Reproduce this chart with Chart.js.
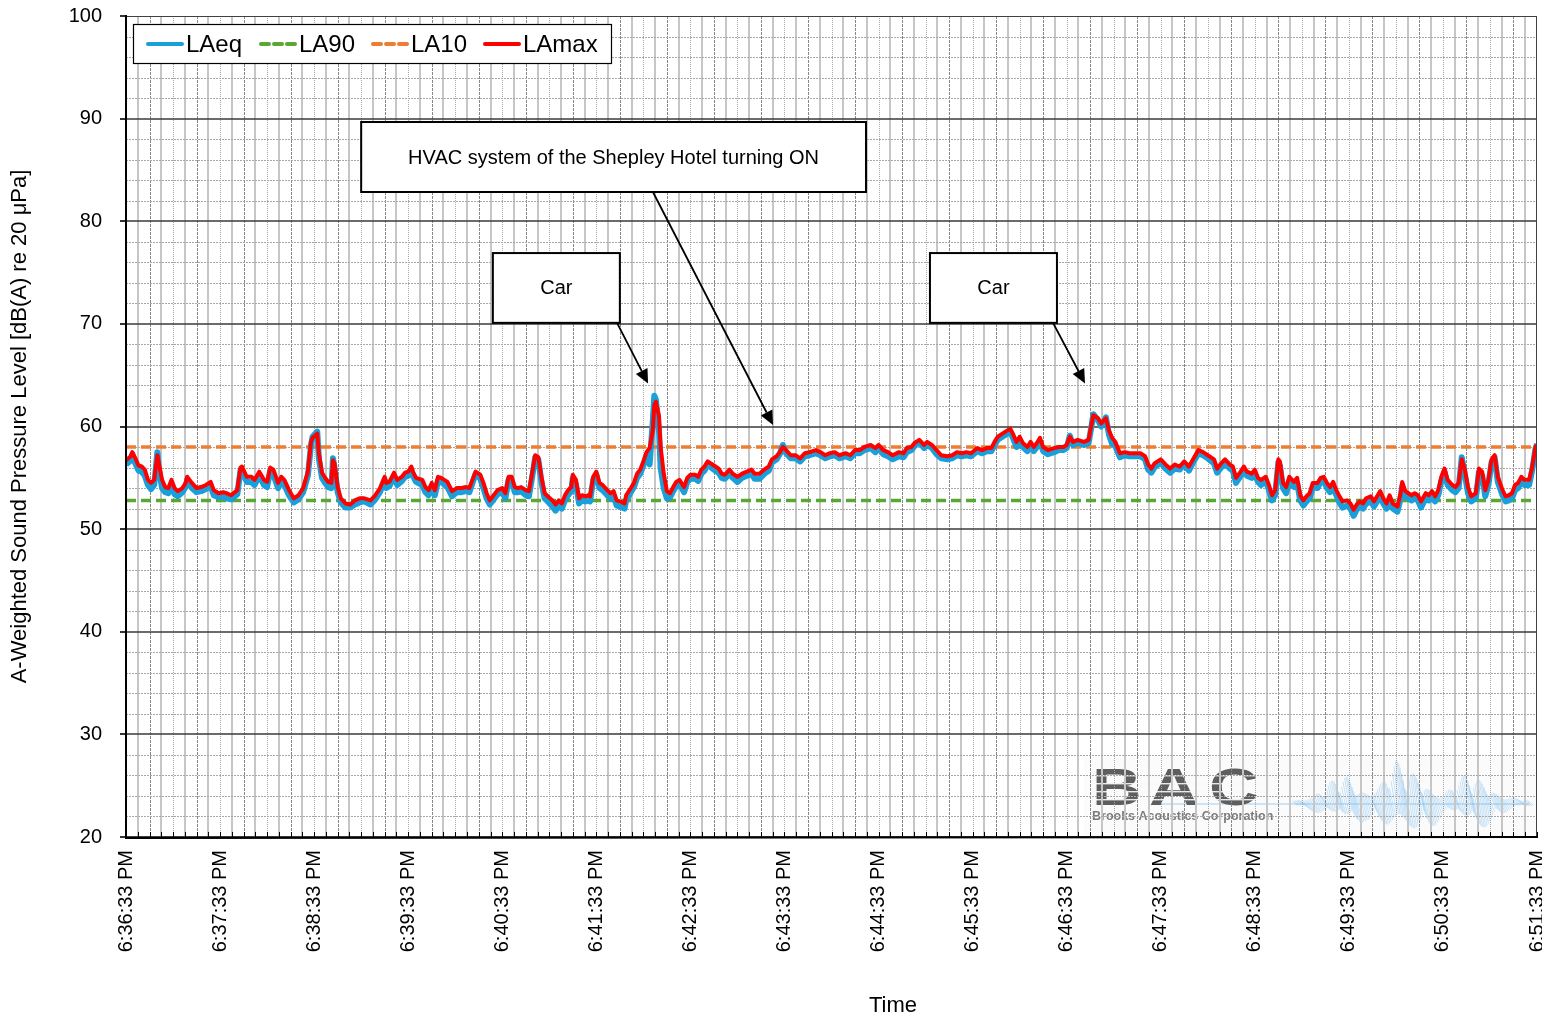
<!DOCTYPE html>
<html><head><meta charset="utf-8">
<script src="https://cdn.jsdelivr.net/npm/chart.js@4.4.1/dist/chart.umd.min.js"></script>
<style>html,body{margin:0;padding:0;background:#fff;overflow:hidden}#wrap{width:1542px;height:1020px}</style>
</head><body><div id="wrap"><canvas id="c" width="1542" height="1020"></canvas></div>
<script>
// ---------- DATA ----------
const startClockSeconds = 18*3600 + 36*60 + 33; // 6:36:33 PM
const durationSeconds = 900;
const majorTickSeconds = 60;
const minorGridSeconds = 7.5;
const yTicks = [20,30,40,50,60,70,80,90,100];
const seriesNames = ['LAeq','LA90','LA10','LAmax'];

// elapsed seconds from 6:36:33 PM
const times = [
0,3,4,6,8,10,12,14,16,18,
20,21,23,25,27,29,31,33,36,38,
39,42,45,48,51,54,56,59,62,64,
67,71,73,74,77,80,82,85,88,90,
92,94,97,99,101,104,107,110,113,116,
118,119,122,123,125,127,129,131,132,133,
135,137,140,143,146,149,152,156,159,162,
165,166,168,171,173,176,178,180,182,183,
185,189,191,193,195,197,199,201,205,208,
211,214,217,219,223,226,228,230,232,234,
237,240,242,244,246,248,250,252,255,257,
259,261,263,265,267,269,272,274,276,278,
280,282,284,285,287,289,291,293,295,296,
298,300,302,304,307,309,311,313,315,318,
319,322,324,326,328,330,332,334,336,337,
338,340,341,343,345,347,349,351,353,356,
358,360,363,365,367,369,371,374,376,378,
380,382,385,387,390,393,396,399,401,404,
408,410,412,415,417,419,421,424,427,430,
433,436,440,443,446,449,452,455,459,462,
465,468,471,475,478,480,483,486,489,493,
496,498,501,503,506,509,511,514,517,520,
524,527,530,533,536,539,543,546,549,552,
554,556,559,562,564,566,568,570,572,575,
577,579,581,583,585,588,592,595,598,600,
602,604,607,611,614,616,617,620,622,625,
627,629,631,634,637,640,644,647,650,652,
654,656,660,663,666,669,672,675,678,681,
684,687,690,694,696,698,701,704,706,708,
711,713,715,718,720,722,724,727,729,731,
733,735,736,738,740,742,745,747,749,751,
753,755,757,760,762,764,766,768,770,772,
774,776,779,781,783,785,787,789,791,794,
796,798,800,802,804,806,808,811,813,814,
816,818,820,822,824,826,829,831,833,835,
837,839,841,843,846,848,850,852,854,856,
858,861,863,865,867,869,871,873,875,878,
880,882,884,886,888,890,892,895,897,899,
900];

const lamax = [
56.7,57.1,57.5,56.9,56.2,56.1,55.8,54.8,54.5,54.8,
57.2,56.4,54.8,54.1,54.0,54.8,54.0,53.7,54.0,54.5,
55.1,54.5,54.0,54.1,54.3,54.6,53.8,53.5,53.6,53.5,
53.3,53.8,56.0,56.1,55.1,55.1,54.8,55.6,54.8,54.6,
56.0,55.8,54.5,55.1,54.8,53.8,53.0,53.3,54.0,55.6,
58.5,58.9,59.3,57.4,55.5,55.0,54.6,54.5,56.7,56.4,
54.1,53.0,52.5,52.4,52.8,53.0,53.0,52.8,53.3,54.0,
55.1,54.5,54.6,55.5,54.8,55.1,55.5,55.6,56.1,55.6,
55.0,54.8,54.1,53.8,54.5,53.8,55.1,55.0,54.6,53.7,
54.0,54.0,54.1,54.0,55.6,55.3,54.5,53.5,52.8,53.2,
53.8,54.0,53.5,55.1,55.1,54.1,54.0,54.1,53.8,53.7,
55.4,57.2,57.0,55.1,53.5,53.2,52.8,52.4,52.8,52.5,
53.3,53.8,54.1,55.3,54.8,53.0,53.3,53.2,53.3,53.2,
55.1,55.6,54.5,54.3,53.8,53.5,53.7,52.8,52.7,52.5,
53.3,54.0,54.5,55.4,55.8,56.6,57.5,57.9,59.6,62.1,
62.4,61.0,58.0,55.4,53.7,53.5,54.1,54.6,54.8,54.1,
55.0,55.3,55.3,55.1,55.8,56.1,56.6,56.3,56.1,55.9,
55.4,55.3,55.8,55.4,55.1,55.4,55.6,55.8,55.4,55.4,
55.9,56.1,56.8,57.1,57.5,58.0,57.7,57.2,57.2,56.9,
57.4,57.5,57.7,57.5,57.2,57.4,57.5,57.2,57.4,57.2,
57.7,57.7,58.0,58.2,57.9,58.2,57.7,57.5,57.2,57.5,
57.4,57.9,58.0,58.4,58.7,58.2,58.5,58.2,57.7,57.2,
57.1,57.2,57.5,57.4,57.5,57.4,57.9,57.7,57.9,57.9,
58.5,59.0,59.3,59.6,59.8,59.2,58.5,59.0,58.4,58.0,
58.5,58.0,58.4,58.9,58.0,57.7,57.9,58.0,58.0,58.2,
59.0,58.5,58.7,58.5,58.7,60.3,61.1,60.8,60.3,60.8,
59.6,58.9,58.5,57.4,57.5,57.4,57.4,57.4,57.1,56.3,
55.9,56.4,56.8,56.3,55.9,56.3,56.1,56.6,56.1,56.9,
57.7,57.5,57.2,56.8,55.9,56.3,56.8,56.3,56.1,55.0,
55.6,56.1,55.6,55.4,55.8,55.0,54.8,55.1,54.3,53.3,
53.8,56.8,56.6,54.5,54.1,55.1,54.6,55.0,53.3,52.8,
53.2,53.5,54.5,54.5,55.0,55.1,54.5,54.1,54.6,53.8,
53.2,52.7,52.8,52.5,51.9,52.4,52.7,52.5,53.0,53.2,
52.7,53.2,53.7,53.0,52.5,53.3,52.5,52.2,53.5,54.6,
53.7,53.5,53.3,53.5,53.3,52.7,53.5,53.3,53.7,53.2,
53.8,55.1,55.9,54.8,54.3,54.1,54.5,56.8,55.8,54.1,
53.2,53.5,55.9,55.6,53.8,54.8,56.8,57.2,55.1,53.8,
53.2,53.3,53.5,54.3,54.5,55.1,54.8,54.8,56.1,58.0,
58.2];

const laeq = [
56.3,56.7,57.3,56.4,55.7,55.6,55.2,54.3,53.9,54.3,
57.5,55.8,54.0,53.6,53.5,54.4,53.4,53.2,53.6,54.1,
54.8,54.0,53.6,53.7,53.9,54.2,53.3,53.1,53.2,53.0,
52.9,53.4,55.7,55.7,54.6,54.6,54.3,55.2,54.3,54.1,
55.7,55.3,54.0,54.6,54.3,53.3,52.6,52.9,53.6,55.2,
58.2,59.0,59.5,56.9,55.0,54.5,54.1,54.0,56.9,56.0,
53.6,52.6,52.1,52.1,52.4,52.6,52.7,52.4,52.9,53.6,
54.8,54.0,54.2,55.1,54.3,54.7,55.1,55.2,55.8,55.2,
54.6,54.3,53.6,53.3,54.0,53.3,54.7,54.6,54.1,53.2,
53.6,53.6,53.7,53.6,55.4,54.9,54.0,53.0,52.4,52.8,
53.4,53.6,53.0,54.8,54.7,53.6,53.6,53.7,53.3,53.2,
55.0,57.0,56.8,54.6,53.0,52.7,52.2,51.8,52.3,52.0,
52.8,53.3,53.7,55.0,54.3,52.5,52.8,52.7,52.8,52.7,
54.8,55.3,54.0,53.8,53.3,53.0,53.2,52.3,52.2,52.0,
52.8,53.6,54.1,55.0,55.4,56.2,57.1,56.3,60.5,63.0,
62.6,59.5,56.0,54.0,53.0,53.1,53.7,54.2,54.4,53.6,
54.6,54.9,54.9,54.7,55.4,55.7,56.3,55.9,55.7,55.5,
55.0,54.9,55.4,55.0,54.6,55.0,55.2,55.4,54.9,54.9,
55.5,55.7,56.5,56.8,57.3,58.2,57.4,56.9,56.9,56.6,
57.1,57.2,57.4,57.2,56.9,57.1,57.2,56.9,57.1,56.9,
57.4,57.4,57.7,57.9,57.5,57.9,57.3,57.1,56.8,57.1,
57.0,57.5,57.7,58.1,58.5,57.9,58.2,57.9,57.3,56.9,
56.8,56.9,57.2,57.1,57.2,57.1,57.6,57.4,57.6,57.6,
58.2,58.7,59.0,59.3,59.5,58.8,58.0,58.6,58.0,57.6,
58.2,57.6,58.0,58.5,57.6,57.3,57.5,57.7,57.7,57.9,
59.1,58.2,58.4,58.2,58.4,60.2,61.2,60.6,60.0,60.9,
59.2,58.3,58.1,57.0,57.2,57.1,57.1,57.1,56.8,55.8,
55.5,56.0,56.5,55.9,55.5,55.9,55.8,56.3,55.7,56.6,
57.4,57.2,56.9,56.4,55.5,55.9,56.4,55.9,55.7,54.5,
55.2,55.7,55.2,55.0,55.4,54.6,54.3,54.7,53.8,52.8,
53.3,56.5,56.2,54.0,53.5,54.6,54.1,54.5,52.8,52.3,
52.7,53.0,54.1,54.0,54.6,54.7,54.0,53.6,54.1,53.3,
52.6,52.1,52.3,52.0,51.3,51.9,52.2,52.0,52.5,52.7,
52.2,52.7,53.2,52.5,52.0,52.8,52.0,51.7,53.0,54.2,
53.2,53.0,52.8,53.0,52.8,52.1,53.0,52.8,53.2,52.7,
53.3,54.7,55.6,54.3,53.8,53.6,54.0,57.0,55.3,53.5,
52.7,53.0,55.6,55.2,53.2,54.3,56.5,57.0,54.6,53.3,
52.7,52.8,53.0,53.8,54.0,54.7,54.3,54.3,55.8,57.8,
58.3];

const la90Level = 52.8;
const la10Level = 58.0;

// annotations: text, box corners (seconds, dB), arrow from/to (seconds, dB)
const notes = [
  {text:'HVAC system of the Shepley Hotel turning ON', x0:150, x1:472, y0:89.67, y1:82.85, from:[336.1,82.85], to:[412.7,60.15]},
  {text:'Car', x0:234, x1:315, y0:76.9, y1:70.1, from:[313.2,70.1], to:[333,64.2]},
  {text:'Car', x0:512.8, x1:593.8, y0:76.9, y1:70.1, from:[591.3,70.1], to:[611.7,64.2]}
];

// ---------- HELPERS ----------
const FONT = '"Liberation Sans", Arial, Helvetica, sans-serif';
function clockLabel(sec){
  const t = startClockSeconds + sec;
  const h = Math.floor(t/3600), m = Math.floor((t%3600)/60), s = Math.round(t%60);
  const ap = h >= 12 ? 'PM' : 'AM';
  const h12 = (h % 12) || 12;
  return h12 + ':' + String(m).padStart(2,'0') + ':' + String(s).padStart(2,'0') + ' ' + ap;
}
const pts = arr => times.map((t,i)=>({x:t, y:arr[i]}));
const flat = v => [{x:0,y:v},{x:durationSeconds,y:v}];

const COLORS = {LAeq:'#199fda', LA90:'#5ba733', LA10:'#ee7d31', LAmax:'#ff0000'};

function drawLogo(ctx, a){
  const ox = a.right - 445, base = a.bottom;
  ctx.save();
  ctx.fillStyle = 'rgba(250,250,250,0.85)';
  ctx.fillRect(ox - 8, base - 80, 453, 88);
  // wave
  const env = [[1290,3],[1310,10],[1330,22],[1345,30],[1360,18],[1378,28],[1395,46],[1405,34],[1420,30],[1440,16],[1465,30],[1485,22],[1505,12],[1530,2]];
  const envAt = x => { for(let i=1;i<env.length;i++){ if(x<=env[i][0]){ const [x0,y0]=env[i-1],[x1,y1]=env[i]; return y0+(y1-y0)*(x-x0)/(x1-x0);} } return 0; };
  const cy = base - 34;
  ctx.lineWidth = 1;
  for(let x=1292; x<1528; x+=1.5){
    const e = envAt(x);
    const up = e * (0.3 + 0.7*Math.abs(Math.sin(x*0.19))*Math.abs(Math.cos(x*0.047)));
    const dn = e * (0.25 + 0.75*Math.abs(Math.sin(x*0.13+1))*Math.abs(Math.cos(x*0.053)));
    ctx.strokeStyle = 'rgba(75,165,235,0.30)';
    ctx.beginPath(); ctx.moveTo(x, cy - up); ctx.lineTo(x+6, cy + dn); ctx.stroke();
  }
  ctx.strokeStyle = 'rgba(80,170,235,0.55)';
  ctx.beginPath(); ctx.moveTo(ox+60, cy+1); ctx.lineTo(a.right-8, cy+1); ctx.stroke();
  // letters (wide, striped)
  ctx.font = 'bold 52px ' + FONT;
  ctx.fillStyle = '#5e5e5e';
  ctx.textBaseline = 'alphabetic';
  [['B',0],['A',57],['C',117]].forEach(([ch,dx])=>{
    ctx.save(); ctx.translate(ox + dx, base - 32); ctx.scale(1.32, 1); ctx.fillText(ch, 0, 0); ctx.restore();
  });
  ctx.fillStyle = 'rgba(250,250,250,0.9)';
  for(let s=0; s<4; s++) ctx.fillRect(ox, base - 62 + s*8, 175, 1.4);
  ctx.font = 'bold 12.5px ' + FONT;
  ctx.fillStyle = '#7b7b7b';
  ctx.fillText('Brooks Acoustics Corporation', ox, base - 17);
  ctx.restore();
}

const gridPlugin = {
  id:'excelGrid',
  beforeDatasetsDraw(chart){
    const {ctx, chartArea:a, scales:{x, y}} = chart;
    ctx.save();
    ctx.beginPath(); ctx.rect(a.left, a.top, a.right-a.left, a.bottom-a.top); ctx.clip();
    drawLogo(ctx, a);
    // vertical grid
    const nV = Math.round(durationSeconds / minorGridSeconds);
    for(let k=1; k<=nV; k++){
      const px = Math.round(x.getPixelForValue(k*minorGridSeconds));
      ctx.beginPath();
      if (k % 2 === 1){ ctx.strokeStyle = '#c6c6c6'; ctx.lineWidth = 2; ctx.setLineDash([]); ctx.moveTo(px, a.top); ctx.lineTo(px, a.bottom); }
      else if (k % 4 === 2){ ctx.strokeStyle = '#888888'; ctx.lineWidth = 1; ctx.setLineDash([3,1]); ctx.moveTo(px+0.5, a.top); ctx.lineTo(px+0.5, a.bottom); }
      else { ctx.strokeStyle = '#a6a6a6'; ctx.lineWidth = 1; ctx.setLineDash([1,1]); ctx.moveTo(px+0.5, a.top); ctx.lineTo(px+0.5, a.bottom); }
      ctx.stroke();
    }
    // horizontal minor
    ctx.setLineDash([2,1]); ctx.strokeStyle = '#a8a8a8'; ctx.lineWidth = 1;
    for(let v=22; v<100; v+=2){
      if (v % 10 === 0) continue;
      const py = Math.round(y.getPixelForValue(v)) + 0.5;
      ctx.beginPath(); ctx.moveTo(a.left, py); ctx.lineTo(a.right, py); ctx.stroke();
    }
    // horizontal major
    ctx.setLineDash([]); ctx.strokeStyle = '#3a3a3a'; ctx.lineWidth = 1.6;
    yTicks.forEach(v=>{
      if (v === 20) return;
      const py = Math.round(y.getPixelForValue(v));
      ctx.beginPath(); ctx.moveTo(a.left, py); ctx.lineTo(a.right, py); ctx.stroke();
    });
    ctx.restore();
  }
};

function arrow(ctx, x1, y1, x2, y2){
  const ang = Math.atan2(y2-y1, x2-x1), L = 14, W = 6.5;
  const c = Math.cos(ang), s = Math.sin(ang);
  ctx.beginPath(); ctx.moveTo(x1, y1); ctx.lineTo(x2 - L*c, y2 - L*s); ctx.stroke();
  ctx.beginPath(); ctx.moveTo(x2, y2);
  ctx.lineTo(x2 - L*c + W*s, y2 - L*s - W*c);
  ctx.lineTo(x2 - L*c - W*s, y2 - L*s + W*c);
  ctx.closePath(); ctx.fill();
}

const overlayPlugin = {
  id:'overlay',
  afterDraw(chart){
    const {ctx, chartArea:a, scales:{x, y}} = chart;
    ctx.save();
    // plot border + axes
    ctx.strokeStyle = '#404040'; ctx.lineWidth = 1;
    ctx.strokeRect(a.left + 0.5, a.top + 0.5, a.right - a.left - 1, a.bottom - a.top - 1);
    ctx.strokeStyle = '#000'; ctx.lineWidth = 2;
    ctx.beginPath(); ctx.moveTo(a.left, a.top - 1); ctx.lineTo(a.left, a.bottom + 1); ctx.lineTo(a.right + 1, a.bottom); ctx.stroke();
    // x tick marks (inside)
    ctx.lineWidth = 1;
    const nV = Math.round(durationSeconds / minorGridSeconds);
    for(let k=1; k<=nV; k++){
      const px = Math.round(x.getPixelForValue(k*minorGridSeconds)) + 0.5;
      ctx.beginPath(); ctx.moveTo(px, a.bottom); ctx.lineTo(px, a.bottom - 5); ctx.stroke();
    }
    // y tick marks (outside)
    yTicks.forEach(v=>{
      const py = Math.round(y.getPixelForValue(v));
      ctx.lineWidth = 1.6;
      ctx.beginPath(); ctx.moveTo(a.left, py); ctx.lineTo(a.left - 6, py); ctx.stroke();
    });
    // x title
    ctx.fillStyle = '#000'; ctx.font = '22px ' + FONT; ctx.textAlign = 'center'; ctx.textBaseline = 'middle';
    ctx.fillText('Time', 893, 1006);
    // annotations
    notes.forEach(n=>{
      const bx0 = x.getPixelForValue(n.x0), bx1 = x.getPixelForValue(n.x1);
      const by0 = y.getPixelForValue(n.y0), by1 = y.getPixelForValue(n.y1);
      ctx.fillStyle = '#fff'; ctx.fillRect(bx0, by0, bx1-bx0, by1-by0);
      ctx.strokeStyle = '#000'; ctx.lineWidth = 2; ctx.setLineDash([]);
      ctx.strokeRect(bx0, by0, bx1-bx0, by1-by0);
      ctx.fillStyle = '#000'; ctx.font = '20px ' + FONT; ctx.textAlign = 'center'; ctx.textBaseline = 'middle';
      ctx.fillText(n.text, (bx0+bx1)/2, (by0+by1)/2 + 1);
      ctx.lineWidth = 1.8;
      arrow(ctx, x.getPixelForValue(n.from[0]), y.getPixelForValue(n.from[1]), x.getPixelForValue(n.to[0]), y.getPixelForValue(n.to[1]));
    });
    // legend
    const lx = a.left + 7, ly = a.top + 8, lw = 478, lh = 39;
    ctx.fillStyle = '#fff'; ctx.fillRect(lx, ly, lw, lh);
    ctx.strokeStyle = '#000'; ctx.lineWidth = 1.2; ctx.strokeRect(lx + 0.5, ly + 0.5, lw, lh);
    const items = [
      {name:seriesNames[0], x:148, dash:[]},
      {name:seriesNames[1], x:261, dash:[8,5]},
      {name:seriesNames[2], x:373, dash:[8,5]},
      {name:seriesNames[3], x:485, dash:[]}
    ];
    const cyL = ly + lh/2 + 0.5;
    items.forEach(it=>{
      ctx.strokeStyle = COLORS[it.name]; ctx.lineWidth = 4; ctx.lineCap = 'round';
      ctx.setLineDash(it.dash);
      ctx.beginPath(); ctx.moveTo(it.x, cyL); ctx.lineTo(it.x + 34, cyL); ctx.stroke();
      ctx.setLineDash([]);
      ctx.fillStyle = '#000'; ctx.font = '24px ' + FONT; ctx.textAlign = 'left'; ctx.textBaseline = 'middle';
      ctx.fillText(it.name, it.x + 38, cyL + 1);
    });
    ctx.restore();
  }
};

// ---------- CHART ----------
const ctx = document.getElementById('c').getContext('2d');
new Chart(ctx, {
  type:'line',
  data:{datasets:[
    {label:'LAmax', data:pts(lamax), borderColor:COLORS.LAmax, borderWidth:4, order:1},
    {label:'LAeq',  data:pts(laeq),  borderColor:COLORS.LAeq,  borderWidth:6, order:2},
    {label:'LA10',  data:flat(la10Level), borderColor:COLORS.LA10, borderWidth:3.5, borderDash:[10,5], order:3},
    {label:'LA90',  data:flat(la90Level), borderColor:COLORS.LA90, borderWidth:3.5, borderDash:[10,5], order:4}
  ]},
  options:{
    responsive:false, animation:false, devicePixelRatio:1,
    layout:{padding:{left:0, right:5, top:16, bottom:0}},
    elements:{point:{radius:0, hoverRadius:0}, line:{tension:0, borderJoinStyle:'round', borderCapStyle:'butt', fill:false}},
    plugins:{legend:{display:false}, tooltip:{enabled:false}},
    events:[],
    scales:{
      x:{type:'linear', min:0, max:durationSeconds,
        grid:{display:false}, border:{display:false},
        ticks:{stepSize:majorTickSeconds, autoSkip:false, minRotation:90, maxRotation:90, padding:5, color:'#000',
          font:{family:FONT, size:20}, callback:v=>clockLabel(v)},
        afterFit:s=>{ s.height = 183; s.paddingLeft = 0; s.paddingRight = 0; s.paddingTop = 0; s.paddingBottom = 0; }
      },
      y:{min:20, max:100,
        grid:{display:false}, border:{display:false},
        afterBuildTicks:s=>{ s.ticks = yTicks.map(v=>({value:v})); },
        ticks:{padding:16, color:'#000', font:{family:FONT, size:20}},
        title:{display:true, text:'A-Weighted Sound Pressure Level [dB(A) re 20 μPa]', color:'#000', font:{family:FONT, size:22}, padding:{top:7, bottom:0}},
        afterFit:s=>{ s.width = 126; s.paddingTop = 0; s.paddingBottom = 0; }
      }
    }
  },
  plugins:[gridPlugin, overlayPlugin]
});
</script></body></html>
